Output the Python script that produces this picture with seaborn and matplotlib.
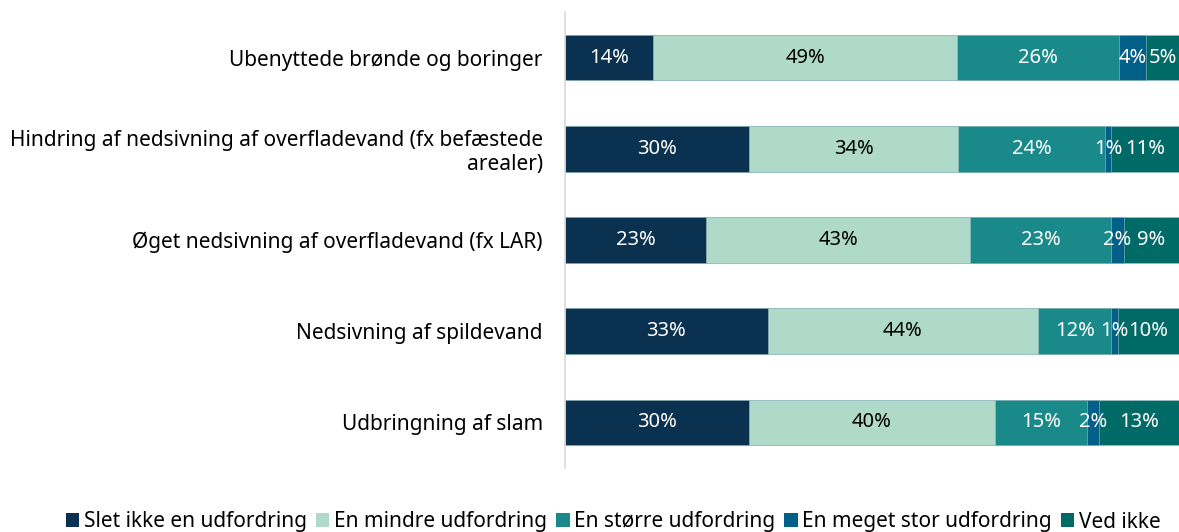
import matplotlib
matplotlib.use("Agg")
import matplotlib.pyplot as plt
from matplotlib.patches import Patch
import seaborn as sns
import numpy as np
import pandas as pd

categories = [
    "Ubenyttede brønde og boringer",
    "Hindring af nedsivning af overfladevand (fx befæstede\narealer)",
    "Øget nedsivning af overfladevand (fx LAR)",
    "Nedsivning af spildevand",
    "Udbringning af slam",
]
series = ["Slet ikke en udfordring", "En mindre udfordring", "En større udfordring",
          "En meget stor udfordring", "Ved ikke"]
slet_ikke = [14.4, 30, 23, 33, 30]
mindre = [49.4, 34, 43, 44, 40]
stoerre = [26.4, 24, 23, 12, 15]
meget_stor = [4.4, 1, 2, 1, 2]
ved_ikke = [5.4, 11, 9, 10, 13]

colors = ["#0B3150", "#AFD9C8", "#1A898A", "#025F87", "#006A66"]
text_colors = ["white", "black", "white", "white", "white"]

sns.set_style("white")
plt.rcParams["font.family"] = ["Noto Sans", "DejaVu Sans"]
plt.rcParams["text.color"] = "black"
plt.rcParams["ytick.color"] = "black"

fig = plt.figure(figsize=(11.79, 5.32), dpi=100)
ax = fig.add_axes([565 / 1179, 1 - 468 / 532, 614 / 1179, 456 / 532])

vals = np.array([slet_ikke, mindre, stoerre, meget_stor, ved_ikke])
cum = np.cumsum(vals, axis=0)
for i in range(len(series) - 1, -1, -1):
    df = pd.DataFrame({"cat": categories, "v": cum[i]})
    sns.barplot(data=df, x="v", y="cat", orient="h", color=colors[i], width=0.5,
                saturation=1, ax=ax, edgecolor="#9fbfc4", linewidth=0.4)

for i in range(len(series)):
    for j in range(len(categories)):
        center = cum[i, j] - vals[i, j] / 2
        ax.text(center, j, f"{vals[i, j]:.0f}%", ha="center", va="center",
                color=text_colors[i], fontsize=14.5)

ax.set_xlim(0, cum[-1].max())
ax.set_ylim(len(categories) - 0.5, -0.5)
ax.set_xlabel("")
ax.set_ylabel("")
ax.set_xticks([])
ax.tick_params(axis="y", length=0, labelsize=15, pad=16, labelcolor="black")
for lab in ax.get_yticklabels():
    lab.set_horizontalalignment("right")
for s in ["top", "right", "bottom"]:
    ax.spines[s].set_visible(False)
ax.spines["left"].set_color("#d9d9d9")
ax.spines["left"].set_linewidth(1.2)

handles = [Patch(facecolor=c, edgecolor="none") for c in colors]
fig.legend(handles, series, loc="center", bbox_to_anchor=(0.52, 1 - 522 / 532),
           ncol=5, frameon=False, fontsize=15, handlelength=0.65, handleheight=0.65,
           handletextpad=0.2, columnspacing=0.45, borderaxespad=0, labelcolor="black")

fig.savefig("out.png", dpi=100)
